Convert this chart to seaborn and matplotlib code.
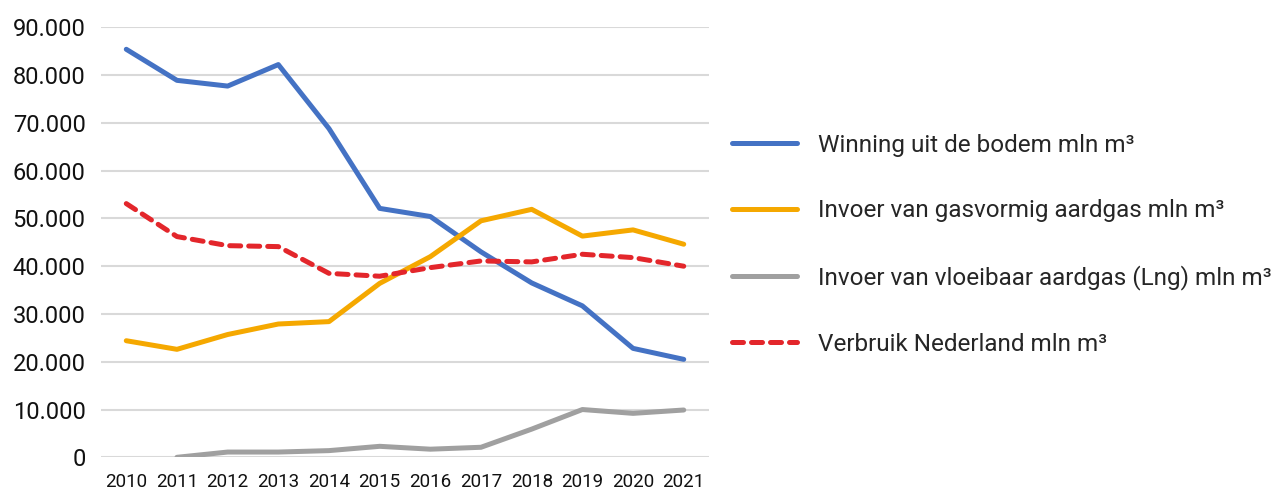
import numpy as np
import pandas as pd
import matplotlib
matplotlib.use('Agg')
import matplotlib.pyplot as plt
from matplotlib.ticker import FuncFormatter
import seaborn as sns

# Gegevens (mln m3)
years = [2010, 2011, 2012, 2013, 2014, 2015, 2016, 2017, 2018, 2019, 2020, 2021]
winning = [85400, 78900, 77700, 82200, 68800, 52100, 50400, 43000, 36500, 31700, 22800, 20500]
invoer_gas = [24400, 22600, 25700, 27900, 28400, 36400, 42000, 49500, 51900, 46300, 47600, 44600]
invoer_lng = [np.nan, 0, 1100, 1100, 1400, 2300, 1700, 2100, 5900, 10000, 9200, 9900]
verbruik = [53100, 46200, 44300, 44100, 38500, 37900, 39700, 41100, 40900, 42500, 41800, 40000]

labels = [
    'Winning uit de bodem mln m³',
    'Invoer van gasvormig aardgas mln m³',
    'Invoer van vloeibaar aardgas (Lng) mln m³',
    'Verbruik Nederland mln m³',
]
colors = ['#4472C4', '#F5A800', '#A0A0A0', '#E3262B']

sns.set_style('white')
plt.rcParams['font.family'] = ['Roboto', 'DejaVu Sans']

fig = plt.figure(figsize=(12.73, 4.93), dpi=100)
ax = fig.add_axes([0.0793, 0.0724, 0.4777, 0.8722])

series = [winning, invoer_gas, invoer_lng, verbruik]
for vals, lab, col in zip(series, labels, colors):
    df = pd.DataFrame({'jaar': years, 'waarde': vals}).dropna()
    sns.lineplot(data=df, x='jaar', y='waarde', ax=ax, color=col,
                 linewidth=3.6, label=lab, legend=False)
ax.lines[3].set_dashes([2.2, 1.6])
ax.lines[3].set_dash_capstyle('round')
for l in ax.lines:
    l.set_solid_capstyle('round')

ax.set_xlim(2009.5, 2021.5)
ax.set_ylim(0, 90000)
ax.set_xticks(years)
ax.set_xticklabels([str(y) for y in years])
ax.set_yticks(np.arange(0, 90001, 10000))
ax.yaxis.set_major_formatter(FuncFormatter(lambda v, p: f'{int(v):,}'.replace(',', '.')))
ax.grid(axis='y', color='#D9D9D9', linewidth=1.5)
ax.set_axisbelow(True)
for s in ax.spines.values():
    s.set_visible(False)
ax.tick_params(axis='both', length=0, colors='#111111')
ax.tick_params(axis='y', pad=11, labelsize=17)
ax.tick_params(axis='x', pad=11.5, labelsize=13.5)
ax.set_xlabel('')
ax.set_ylabel('')

handles = ax.lines[:4]
fig.legend(handles, labels, loc='upper left', bbox_to_anchor=(0.575, 0.729),
           frameon=False, fontsize=17.5, handlelength=2.67, handletextpad=0.86,
           labelspacing=1.76, borderpad=0, borderaxespad=0)

fig.savefig('out.png', dpi=100)
